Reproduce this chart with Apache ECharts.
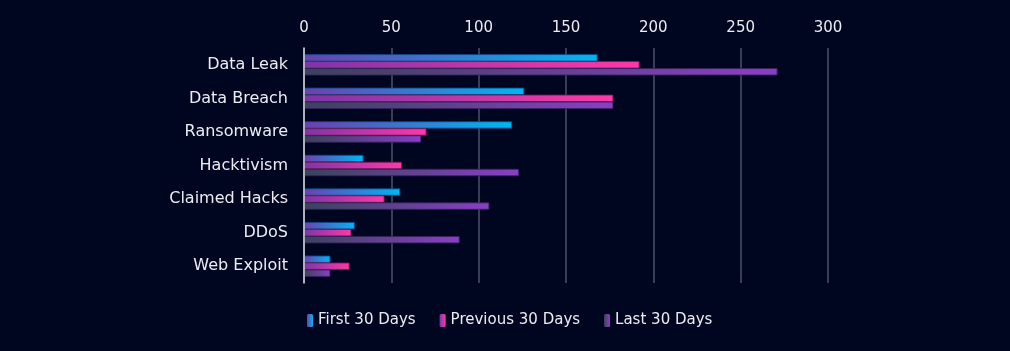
<!DOCTYPE html>
<html>
<head>
<meta charset="utf-8">
<script src="https://cdn.jsdelivr.net/npm/echarts@6/dist/echarts.min.js"></script>
<style>
  html, body { margin: 0; padding: 0; background: #000520; }
  #chart { width: 1010px; height: 351px; }
</style>
</head>
<body>
<div id="chart"></div>
<script>
// data
const categories = ['Data Leak', 'Data Breach', 'Ransomware', 'Hacktivism', 'Claimed Hacks', 'DDoS', 'Web Exploit'];
const seriesNames = ['First 30 Days', 'Previous 30 Days', 'Last 30 Days'];
const firstDays = [168, 126, 119, 34, 55, 29, 15];
const previousDays = [192, 177, 70, 56, 46, 27, 26];
const lastDays = [271, 177, 67, 123, 106, 89, 15];
const xTicks = [0, 50, 100, 150, 200, 250, 300];

function grad(from, to) {
    return new echarts.graphic.LinearGradient(0, 0, 1, 0, [
        { offset: 0, color: from },
        { offset: 1, color: to }
    ]);
}

const colors = [
    grad('#6e3fae', '#00b6f2'),
    grad('#7c36a6', '#ff38a8'),
    grad('#39445a', '#8a3fc4')
];
const borders = ['#0a4a8a', '#7a1a60', '#3a2060'];

const chart = echarts.init(document.getElementById('chart'));
const font = '"DejaVu Sans", sans-serif';
const textColor = '#ececf2';

chart.setOption({
    backgroundColor: '#000520',
    textStyle: { fontFamily: font },
    grid: { left: 304, right: 182, top: 48, bottom: 68 },
    legend: {
        data: seriesNames,
        bottom: 18,
        left: 302,
        itemWidth: 6,
        itemHeight: 13,
        itemGap: 24,
        itemStyle: { borderWidth: 0 },
        textStyle: { color: textColor, fontSize: 15, fontFamily: font }
    },
    xAxis: {
        type: 'value',
        position: 'top',
        min: xTicks[0],
        max: xTicks[xTicks.length - 1],
        interval: 50,
        axisLine: { show: false },
        axisTick: { show: false },
        axisLabel: { color: textColor, fontSize: 15, margin: 12 },
        splitLine: { lineStyle: { color: '#3a3d58', width: 2 } }
    },
    yAxis: {
        type: 'category',
        data: categories,
        inverse: true,
        z: 10,
        axisLine: { show: true, lineStyle: { color: '#d8d8e0', width: 1.5 } },
        axisTick: { show: false },
        axisLabel: { color: textColor, fontSize: 16, margin: 16 }
    },
    series: [firstDays, previousDays, lastDays].map((vals, i) => ({
        name: seriesNames[i],
        type: 'bar',
        data: vals,
        barWidth: 7,
        barGap: '0%',
        itemStyle: { color: colors[i], borderColor: borders[i], borderWidth: 0.5 }
    }))
});
</script>
</body>
</html>
